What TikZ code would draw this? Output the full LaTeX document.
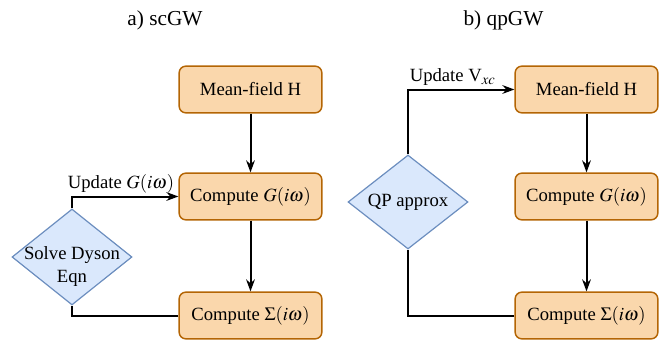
\documentclass[tikz,border=0pt]{standalone}
\usepackage{mathptmx}
\usepackage{fontspec}
\setmainfont{Liberation Serif}
\usetikzlibrary{arrows.meta,shapes.geometric}
\DeclareMathSizes{14}{14}{11}{8}

\definecolor{boxfill}{HTML}{FAD7AC}
\definecolor{boxline}{HTML}{B46504}
\definecolor{decfill}{HTML}{DAE8FC}
\definecolor{decline}{HTML}{6C8EBF}

\begin{document}
\begin{tikzpicture}[x=0.75pt, y=-0.75pt, >={Stealth[length=9pt,width=6.5pt]},
  font=\fontsize{14}{17}\selectfont,
  stepbox/.style={draw=boxline, fill=boxfill, line width=1.1pt, rounded corners=5pt,
    minimum width=107pt, minimum height=35pt, inner sep=0pt},
  decision/.style={diamond, draw=decline, fill=decfill, line width=0.9pt,
    minimum width=90pt, minimum height=72pt, inner sep=0pt},
  flow/.style={line width=1.5pt},
  heading/.style={font=\fontsize{16}{19}\selectfont}]
  \useasboundingbox (0,0) rectangle (660,339);

  % a) self-consistent GW loop
  \node[heading] (titleA) at (165,20) {a) scGW};
  \node[stepbox] (mfA) at (250.5,89.5) {Mean-field H};
  \node[stepbox] (gA) at (250.5,196.5) {Compute $G(i\omega)$};
  \node[stepbox] (sigA) at (250.5,315.5) {Compute $\Sigma(i\omega)$};
  \node[decision, minimum height=72pt,
    label={[align=center, yshift=-7pt]center:Solve Dyson\\Eqn}] (dysonA) at (72,257) {};
  \draw[flow,->] (mfA) -- (gA);
  \draw[flow,->] (gA) -- (sigA);
  \draw[flow,->] (dysonA) |- node[above, pos=0.73, inner sep=2pt] {Update $G(i\omega)$} (gA);
  \draw[flow] (sigA) -| (dysonA);

  % b) quasiparticle GW loop
  \node[heading] (titleB) at (503.5,20) {b) qpGW};
  \node[stepbox] (mfB) at (586.5,89.5) {Mean-field H};
  \node[stepbox] (gB) at (586.5,196.5) {Compute $G(i\omega)$};
  \node[stepbox] (sigB) at (586.5,315.5) {Compute $\Sigma(i\omega)$};
  \node[decision, minimum height=70.5pt,
    label={center:QP approx}] (qpB) at (408,202) {};
  \draw[flow,->] (mfB) -- (gB);
  \draw[flow,->] (gB) -- (sigB);
  \draw[flow,->] (qpB) |- node[above, pos=0.71, inner sep=2pt] {Update V$_{xc}$} (mfB);
  \draw[flow] (sigB) -| (qpB);
\end{tikzpicture}
\end{document}
